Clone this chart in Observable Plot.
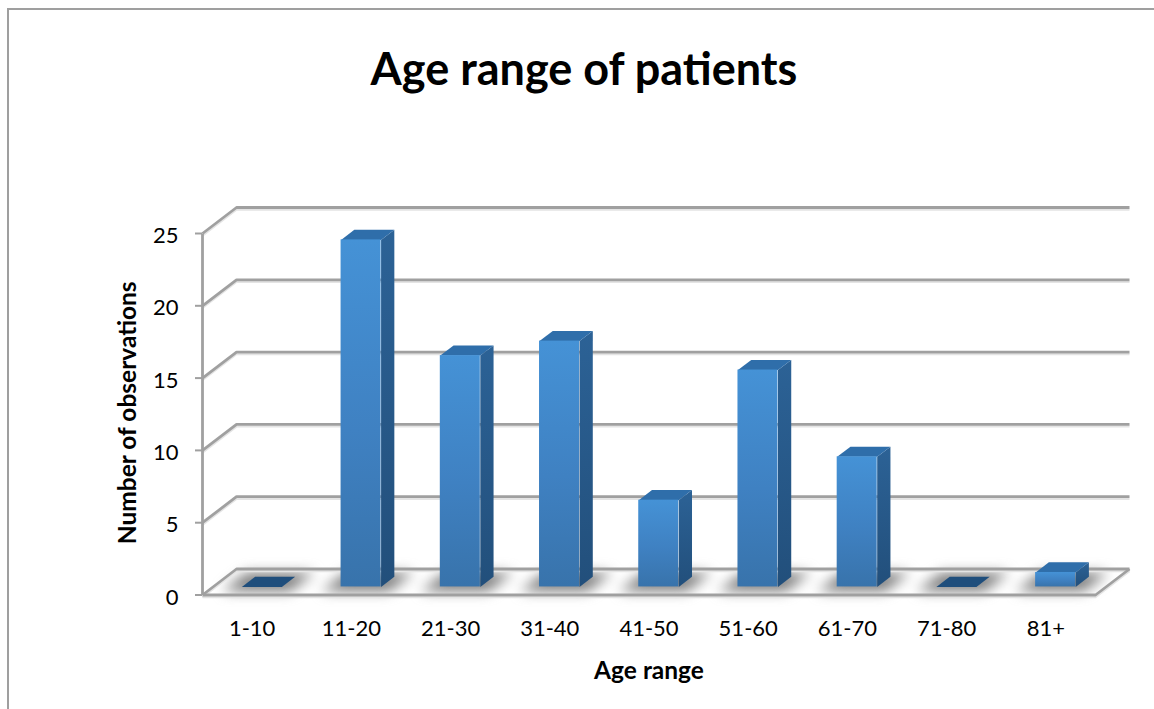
<!DOCTYPE html>
<html><head><meta charset="utf-8">
<script src="https://cdn.jsdelivr.net/npm/d3@7"></script>
<script src="https://cdn.jsdelivr.net/npm/@observablehq/plot@0.6"></script>
<style>
html,body{margin:0;padding:0;background:#fff;overflow:hidden}
#frame{position:absolute;left:7px;top:8px;width:1147px;height:701px;border-top:2px solid #9f9f9f;border-left:2px solid #9f9f9f;box-sizing:border-box}
#title{position:absolute;left:0;top:0;width:1168px;height:100px;text-align:center;font:700 45px/136px Lato,sans-serif;color:#000}
#chart{position:absolute;left:0;top:100px}
svg{display:block}
</style></head><body>
<div id="frame"></div>
<div id="title">Age range of patients</div>
<div id="chart"></div>
<script>
const categories = ["1-10","11-20","21-30","31-40","41-50","51-60","61-70","71-80","81+"];
const observations = [0,24,16,17,6,15,9,0,1];
const yTicks = [0,5,10,15,20,25];

// oblique projection: depth d in [0,1] moves a data point along the floor
const depthX = 34/99.22, depthY = 26/14.46;
const px = (u,v,d) => ({x:u+d*depthX, y:v+d*depthY});
const halfBar = 0.2016, dFront = 0.31, dBack = 0.70, barShift = -0.008;
const bars = categories.map((c,i)=>({c,v:observations[i],u:i+0.5+barShift}));
const poly = (corners) => bars.flatMap(b => corners(b).map(([u,v,d])=>({id:b.c,value:b.v,...px(u,v,d)})));

const sideFaces = poly(b=>[[b.u+halfBar,0,dFront],[b.u+halfBar,0,dBack],[b.u+halfBar,b.v,dBack],[b.u+halfBar,b.v,dFront]]);
const topFaces = poly(b=>[[b.u-halfBar,b.v,dFront],[b.u+halfBar,b.v,dFront],[b.u+halfBar,b.v,dBack],[b.u-halfBar,b.v,dBack]]);
const shadows = poly(b=>[[b.u-0.34,0,0.14],[b.u+0.34,0,0.14],[b.u+0.34,0,0.86],[b.u-0.34,0,0.86]]);
const gridLines = yTicks.flatMap(t=>[[0,t,0],[0,t,1],[9,t,1]].map(([u,v,d])=>({id:t,...px(u,v,d)})));
const floorEdge = [[0,0,0],[9,0,0],[9,0,1]].map(([u,v,d])=>px(u,v,d));
const yAxisLine = [{x:0,y:0},{x:0,y:25}];
const grey = "#a0a0a0";
const lineStyle = {x:"x",y:"y",stroke:grey,strokeWidth:2.8,strokeLinecap:"butt"};
const glowStyle = {x:"x",y:"y",stroke:"#e4e4e4",strokeWidth:2,dy:2.2,strokeLinecap:"butt"};

const gradient = (id,stops) => () => {
  const g = d3.create("svg:linearGradient").attr("id",id).attr("x1",0).attr("x2",0).attr("y1",0).attr("y2",1);
  stops.forEach(([o,c])=>g.append("stop").attr("offset",o).attr("stop-color",c));
  const defs = d3.create("svg:defs"); defs.append(()=>g.node());
  return defs.node();
};

const chart = Plot.plot({
  width:1154, height:609, marginLeft:202, marginRight:59, marginTop:133, marginBottom:114.5,
  x:{type:"linear",domain:[0,9],range:[202,1095]},
  y:{type:"linear",domain:[0,25],range:[494.5,133]},
  style:{fontFamily:"Lato, sans-serif",fontSize:"22px",color:"#000",background:"transparent",overflow:"visible"},
  marks:[
    gradient("front",[[0,"#4592d6"],[0.55,"#3f81c2"],[1,"#3873ab"]]),
    gradient("side",[[0,"#2c6296"],[1,"#224f7b"]]),
    Plot.line(shadows,{x:"x",y:"y",z:"id",fill:"#7c7c7c",stroke:"none",imageFilter:"blur(6.5px)"}),
    Plot.line(gridLines,{...glowStyle,z:"id"}),
    Plot.line(floorEdge,glowStyle),
    Plot.line(gridLines,{...lineStyle,z:"id"}),
    Plot.line(floorEdge,lineStyle),
    Plot.line(yAxisLine,lineStyle),
    Plot.axisY({ticks:yTicks,tickSize:7,tickFormat:()=>"",stroke:grey,strokeWidth:2,label:null}),
    Plot.axisY({ticks:yTicks,tickSize:0,tickPadding:24,dy:2.5,label:null}),
    Plot.axisX({ticks:categories.map((c,i)=>i+0.5),tickFormat:u=>categories[u-0.5],tickSize:0,tickPadding:25,label:null}),
    Plot.line(sideFaces,{filter:d=>d.value>0,x:"x",y:"y",z:"id",fill:"url(#side)",stroke:"none"}),
    Plot.line(topFaces,{filter:d=>d.value>0,x:"x",y:"y",z:"id",fill:"#2f6eaa",stroke:"none"}),
    Plot.line(topFaces,{filter:d=>d.value===0,x:"x",y:"y",z:"id",fill:"#1f4e7c",stroke:"none"}),
    Plot.rect(bars,{x1:b=>px(b.u-halfBar,0,dFront).x,x2:b=>px(b.u+halfBar,0,dFront).x,
      y1:b=>px(0,0,dFront).y,y2:b=>px(0,b.v,dFront).y,fill:"url(#front)"}),
    Plot.text(["Age range"],{x:[4.5],frameAnchor:"bottom",dy:84,fontWeight:700,fontSize:24.5,fill:"#000"}),
    Plot.text(["Number of observations"],{y:[12.6],frameAnchor:"left",textAnchor:"middle",dx:-74,rotate:-90,fontWeight:700,fontSize:24.5,fill:"#000"})
  ]
});
document.getElementById("chart").append(chart);
</script>
</body></html>
